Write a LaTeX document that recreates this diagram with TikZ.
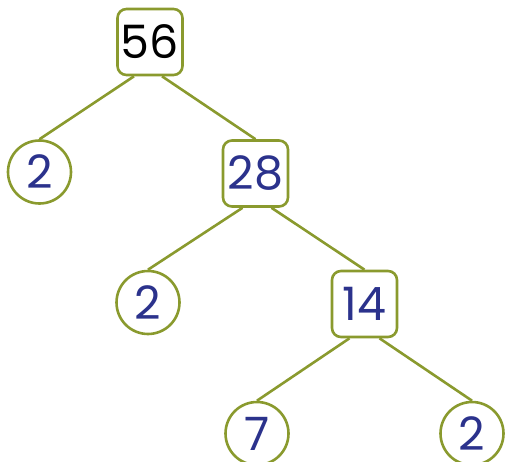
\documentclass[tikz,border=0pt]{standalone}
\usepackage{fontspec}
\setmainfont{Poppins}
\definecolor{olive}{RGB}{138,154,46}
\definecolor{navy}{RGB}{43,50,140}
\begin{document}
\begin{tikzpicture}[x=1pt,y=-1pt,
  box/.style={draw=olive,line width=2.6pt,rounded corners=9pt,minimum width=65pt,minimum height=66pt,inner sep=0pt,font=\fontsize{46}{46}\selectfont,text=navy},
  leaf/.style={draw=olive,line width=2.6pt,circle,minimum size=63pt,inner sep=0pt,font=\fontsize{46}{46}\selectfont,text=navy},
  edge/.style={draw=olive,line width=2.6pt}]
\useasboundingbox (0,0) rectangle (505,462);
\node[box,text=black] (n56) at (150,42) {56};
\node[leaf] (l1) at (39.5,172) {2};
\node[box] (n28) at (255.5,173.5) {28};
\node[leaf] (l2) at (148,302.5) {2};
\node[box] (n14) at (364.5,304) {14};
\node[leaf] (l3) at (257,433.5) {7};
\node[leaf] (l4) at (472,433.5) {2};
\draw[edge] ([xshift=-16pt]n56.south) -- (l1.north);
\draw[edge] ([xshift=12pt]n56.south) -- (n28.north);
\draw[edge] ([xshift=-13pt]n28.south) -- (l2.north);
\draw[edge] ([xshift=16pt]n28.south) -- (n14.north);
\draw[edge] ([xshift=-15pt]n14.south) -- (l3.north);
\draw[edge] ([xshift=15pt]n14.south) -- (l4.north);
\end{tikzpicture}
\end{document}
